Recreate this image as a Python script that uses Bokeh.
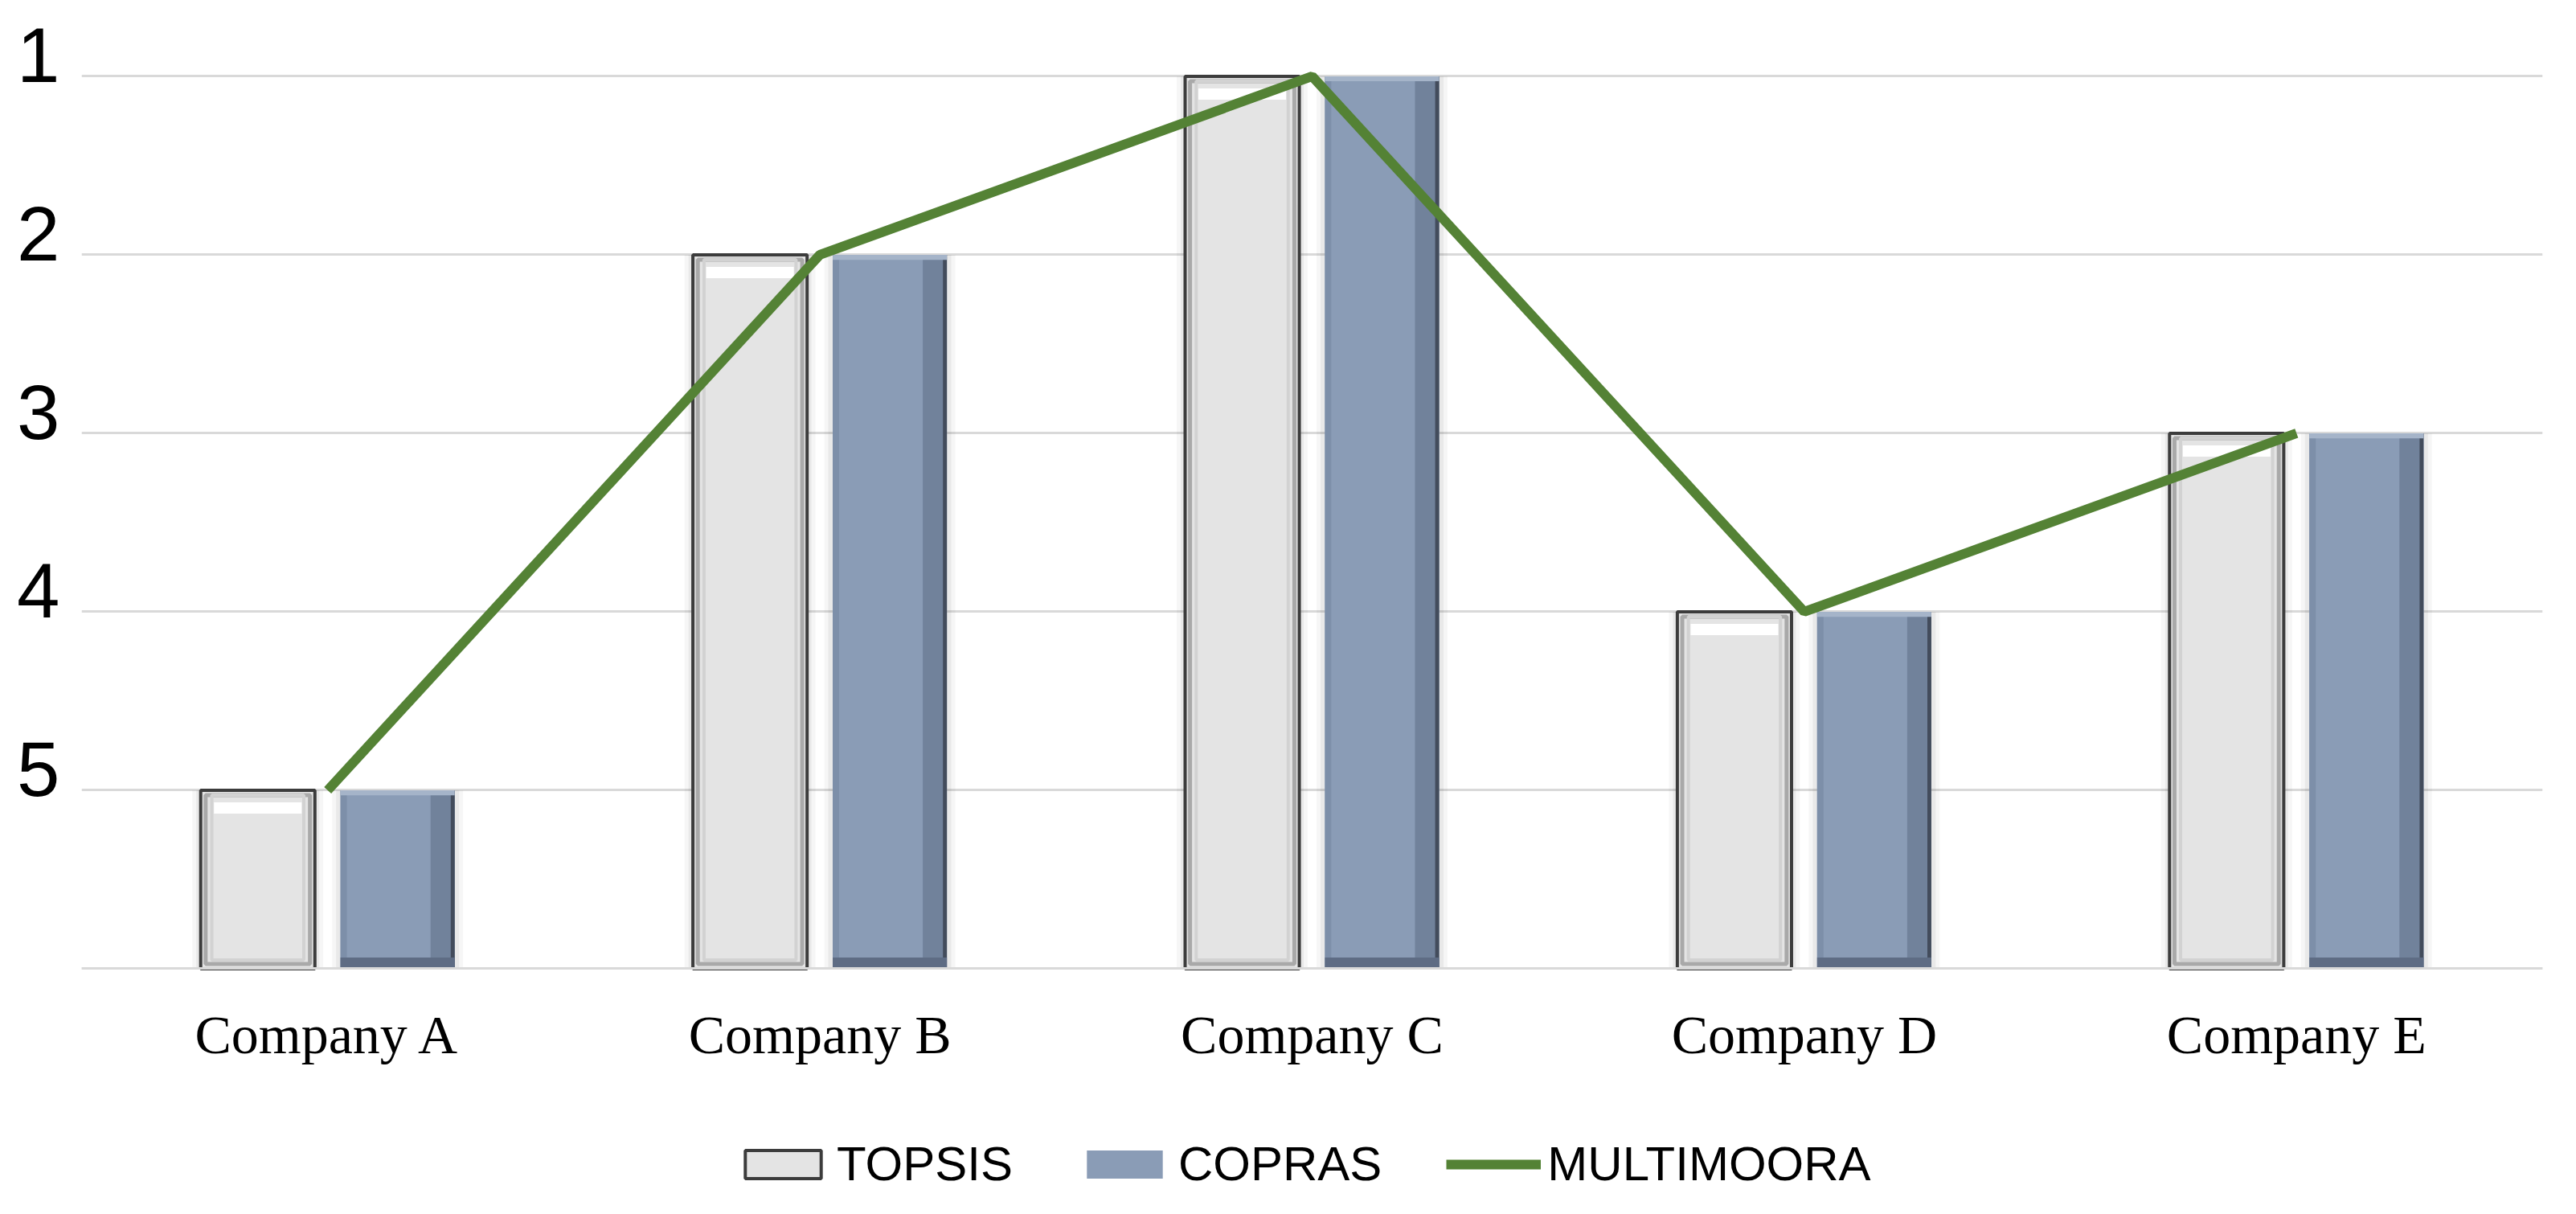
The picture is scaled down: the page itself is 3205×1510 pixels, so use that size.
from bokeh.plotting import figure
from bokeh.models import Range1d, FactorRange, FixedTicker, ColumnDataSource, LinearAxis
from bokeh.transform import dodge
from bokeh.embed import file_html
from bokeh.resources import INLINE

# ---- data ----
companies = ["Company A", "Company B", "Company C", "Company D", "Company E"]
topsis = [5, 2, 1, 4, 3]
copras = [5, 2, 1, 4, 3]
multimoora = [5, 2, 1, 4, 3]
rank_ticks = [1, 2, 3, 4, 5]
BASE = 6  # bars grow from below the worst rank

src = ColumnDataSource(dict(cat=companies, topsis=topsis, copras=copras, multi=multimoora,
                            t_in=[v + 0.027 for v in topsis], t_hl_top=[v + 0.068 for v in topsis],
                            t_hl_bot=[v + 0.131 for v in topsis],
                            c_top2=[v + 0.028 for v in copras]))

FONT = "Liberation Serif"
W_BAR = 0.232
OFF = 0.142
Y_TOP = 0.8
Y_BOTTOM = 7.25
LABEL_SHIFT = 0.117  # tick labels sit slightly above their gridlines

p = figure(x_range=FactorRange(*companies, range_padding=0),
           y_range=Range1d(start=Y_BOTTOM, end=Y_TOP),
           width=3189, height=1494, output_backend="svg", toolbar_location=None,
           min_border_left=101, min_border_right=26, min_border_top=50, min_border_bottom=12)
p.outline_line_color = None
p.background_fill_color = "white"
p.border_fill_color = "white"
p.extra_y_ranges = {"lab": Range1d(start=Y_BOTTOM + LABEL_SHIFT, end=Y_TOP + LABEL_SHIFT)}

# main y axis only drives the gridlines
p.yaxis.ticker = FixedTicker(ticks=rank_ticks + [BASE])
p.yaxis.visible = False
p.xgrid.grid_line_color = None
p.ygrid.grid_line_color = "#d9d9d9"
p.ygrid.grid_line_width = 3

# soft shadows
for dw, a in [(0.034, 0.035), (0.018, 0.05)]:
    p.vbar(x=dodge("cat", -OFF, range=p.x_range), width=W_BAR + dw, top="topsis", bottom=BASE,
           source=src, fill_color="black", fill_alpha=a, line_color=None)
    p.vbar(x=dodge("cat", OFF, range=p.x_range), width=W_BAR + dw, top="copras", bottom=BASE,
           source=src, fill_color="black", fill_alpha=a, line_color=None)

# TOPSIS bars (bevelled light gray)
p.vbar(x=dodge("cat", -OFF, range=p.x_range), width=W_BAR, top="topsis", bottom=BASE,
       source=src, fill_color="#e4e4e4", line_color="#3c3c3c", line_width=4,
       legend_label="TOPSIS")
p.vbar(x=dodge("cat", -OFF, range=p.x_range), width=W_BAR - 0.02, top="t_in", bottom=BASE - 0.027,
       source=src, fill_color=None, line_color="#a9a9a9", line_width=5)
p.vbar(x=dodge("cat", -OFF, range=p.x_range), width=W_BAR - 0.045, top="t_in", bottom=BASE - 0.05,
       source=src, fill_color=None, line_color="#d2d2d2", line_width=4)
p.vbar(x=dodge("cat", -OFF, range=p.x_range), width=0.178, top="t_hl_top", bottom="t_hl_bot",
       source=src, fill_color="white", line_color=None)

# COPRAS bars (bevelled blue-gray)
p.vbar(x=dodge("cat", OFF, range=p.x_range), width=W_BAR, top="copras", bottom=BASE,
       source=src, fill_color="#8a9cb6", line_color=None, legend_label="COPRAS")
p.vbar(x=dodge("cat", 0.0325, range=p.x_range), width=0.013, top="copras", bottom=BASE,
       source=src, fill_color="#7d8fa9", line_color=None)
p.vbar(x=dodge("cat", 0.2335, range=p.x_range), width=0.049, top="copras", bottom=BASE,
       source=src, fill_color="#71829b", line_color=None)
p.vbar(x=dodge("cat", 0.254, range=p.x_range), width=0.008, top="copras", bottom=BASE,
       source=src, fill_color="#434c5c", line_color=None)
p.vbar(x=dodge("cat", OFF, range=p.x_range), width=W_BAR, top=BASE - 0.063, bottom=BASE,
       source=src, fill_color="#5e6c84", line_color=None)
p.vbar(x=dodge("cat", OFF, range=p.x_range), width=W_BAR, top="copras", bottom="c_top2",
       source=src, fill_color="#a5b4c9", line_color=None)

# MULTIMOORA line
p.line(x="cat", y="multi", source=src, line_color="#548235", line_width=12,
       legend_label="MULTIMOORA")

# visible rank labels
yax = LinearAxis(y_range_name="lab", ticker=FixedTicker(ticks=rank_ticks))
yax.axis_line_color = None
yax.major_tick_line_color = None
yax.minor_tick_line_color = None
yax.major_label_standoff = 21
yax.major_label_text_font_size = "96px"
yax.major_label_text_color = "black"
p.add_layout(yax, "left")

# category axis pinned to the bar baseline
p.xaxis.fixed_location = BASE
p.xaxis.axis_line_color = "#d9d9d9"
p.xaxis.axis_line_width = 3
p.xaxis.major_tick_line_color = None
p.xaxis.minor_tick_line_color = None
p.xaxis.major_label_standoff = 38
p.xaxis.major_label_text_font = FONT
p.xaxis.major_label_text_font_size = "68px"
p.xaxis.major_label_text_color = "black"

leg = p.legend[0]
leg.orientation = "horizontal"
leg.location = (814, 0)
leg.border_line_color = None
leg.background_fill_alpha = 0
leg.glyph_width = 118
leg.glyph_height = 44
leg.label_standoff = 8
leg.spacing = 80
leg.margin = 0
leg.label_text_font_size = "60px"
leg.label_text_color = "black"

open("out.html", "w").write(file_html(p, INLINE))
